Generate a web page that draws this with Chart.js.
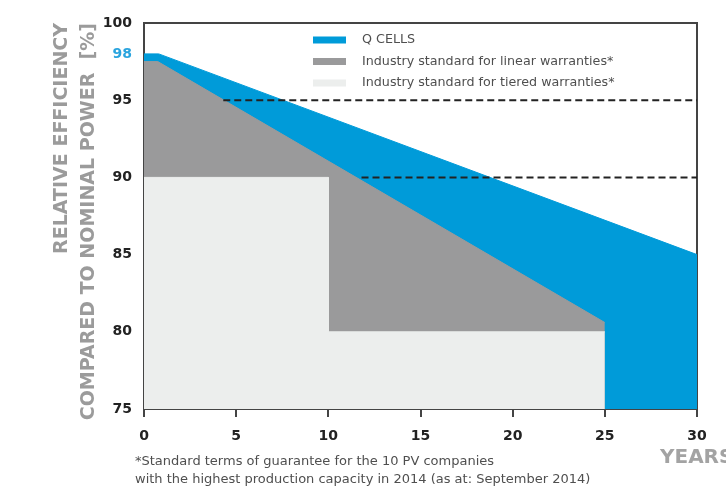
<html>
<head>
<script src="https://cdn.jsdelivr.net/npm/chart.js@4.4.1/dist/chart.umd.min.js"></script>
<style>
	body { margin: 0; background: #fff; }
	#wrap { width: 726px; height: 491px; }
</style>
</head>
<body>
<div id="wrap"><canvas id="mychart"></canvas></div>
<script>
	// guaranteed power (years -> % of nominal power)
	let qcellsYears = [0, 0.8, 30];
	let qcellsValues = [98, 98, 85];
	let linearYears = [0, 0.75, 25];
	let linearValues = [97.5, 97.5, 80.6];
	let tieredYears = [0, 10, 10, 25];
	let tieredValues = [90, 90, 80, 80];
	// dashed guide lines
	let dash95Years = [4.3, 30];
	let dash95Values = [95, 95];
	let dash90Years = [11.8, 30];
	let dash90Values = [90, 90];

	let yTicks = [75, 80, 85, 90, 95, 98, 100];
	let xTicks = [0, 5, 10, 15, 20, 25, 30];
	let seriesLabels = ['Q CELLS', 'Industry standard for linear warranties*', 'Industry standard for tiered warranties*'];
	let yTitle = ['RELATIVE EFFICIENCY', 'COMPARED TO NOMINAL POWER  [%]'];
	let xTitle = 'YEARS';
	let footnote = ['*Standard terms of guarantee for the 10 PV companies', 'with the highest production capacity in 2014 (as at: September 2014)'];

	let blue = '#009bd9';
	let grey = '#9a9a9b';
	let light = '#eceeed';

	function pts(xs, ys) {
		return xs.map(function (x, i) { return { x: x, y: ys[i] }; });
	}

	function area(label, xs, ys, color) {
		return { label: label, data: pts(xs, ys), backgroundColor: color, borderColor: color, borderWidth: 1, fill: 'start', pointRadius: 0, tension: 0 };
	}

	function dashed(xs, ys) {
		return { label: '', data: pts(xs, ys), borderColor: '#222', borderWidth: 2, borderDash: [7, 4], fill: false, pointRadius: 0 };
	}

	// legend drawn inside the plot, in the same order as the picture
	const boxLegend = {
		id: 'boxLegend',
		afterDraw(chart) {
			const ctx = chart.ctx, a = chart.chartArea;
			ctx.save();
			ctx.font = '12.7px "DejaVu Sans"';
			ctx.textBaseline = 'middle';
			seriesLabels.forEach(function (label, i) {
				const ds = chart.data.datasets.find(function (d) { return d.label === label; });
				const y = a.top + 17 + i * 21.5;
				ctx.fillStyle = ds.backgroundColor;
				ctx.fillRect(a.left + 169, y - 3.5, 33, 7);
				ctx.fillStyle = '#4f4f4f';
				ctx.fillText(label, a.left + 218, y);
			});
			ctx.restore();
		}
	};

	// "YEARS" and the footnote under the axis
	const notes = {
		id: 'notes',
		afterDraw(chart) {
			const ctx = chart.ctx, a = chart.chartArea;
			ctx.save();
			ctx.textBaseline = 'middle';
			ctx.font = 'bold 20px "DejaVu Sans"';
			ctx.fillStyle = '#a3a3a3';
			ctx.fillText(xTitle, a.right - 37, a.bottom + 49);
			ctx.font = '13px "DejaVu Sans"';
			ctx.fillStyle = '#4f4f4f';
			footnote.forEach(function (line, i) {
				ctx.fillText(line, a.left - 9, a.bottom + 53 + i * 18);
			});
			ctx.restore();
		}
	};

	let chart = new Chart(document.getElementById('mychart'), {
		type: 'line',
		data: {
			datasets: [
				dashed(dash95Years, dash95Values),
				dashed(dash90Years, dash90Values),
				area(seriesLabels[2], tieredYears, tieredValues, light),
				area(seriesLabels[1], linearYears, linearValues, grey),
				area(seriesLabels[0], qcellsYears, qcellsValues, blue)
			]
		},
		options: {
			responsive: true,
			maintainAspectRatio: false,
			animation: false,
			layout: { padding: { left: 0, top: 23, right: 29, bottom: 0 } },
			plugins: { legend: { display: false }, tooltip: { enabled: false } },
			scales: {
				x: {
					type: 'linear', position: 'bottom', min: 0, max: 30,
					afterBuildTicks: function (s) { s.ticks = xTicks.map(function (v) { return { value: v }; }); },
					ticks: { font: { family: 'DejaVu Sans', size: 14, weight: 'bold' }, color: '#222', padding: 11, maxRotation: 0 },
					grid: { display: true, drawOnChartArea: false, drawTicks: true, tickLength: 8, color: '#444', lineWidth: 2 },
					border: { color: '#444', width: 2 },
					afterFit: function (s) { s.height = 82; }
				},
				y: {
					type: 'linear', position: 'left', min: 75, max: 100,
					afterBuildTicks: function (s) { s.ticks = yTicks.map(function (v) { return { value: v }; }); },
					ticks: {
						font: { family: 'DejaVu Sans', size: 14, weight: 'bold' },
						color: function (c) { return c.tick && c.tick.value === 98 ? '#2aa4de' : '#222'; },
						padding: 12
					},
					grid: { display: false, drawTicks: false },
					border: { color: '#444', width: 2 },
					title: {
						display: true, text: yTitle, align: 'end', color: '#9b9b9b',
						font: { family: 'DejaVu Sans', size: 19, weight: 'bold', lineHeight: 1.4 },
						padding: { top: 49, bottom: 0 }
					},
					afterFit: function (s) { s.width = 144; }
				},
				xTop: {
					type: 'linear', position: 'top', min: 0, max: 30,
					ticks: { display: false }, grid: { display: false, drawTicks: false },
					border: { color: '#444', width: 2 },
					afterFit: function (s) { s.height = 0; }
				},
				yRight: {
					type: 'linear', position: 'right', min: 75, max: 100,
					ticks: { display: false }, grid: { display: false, drawTicks: false },
					border: { color: '#444', width: 2 },
					afterFit: function (s) { s.width = 0; }
				}
			}
		},
		plugins: [boxLegend, notes]
	});
</script>
</body>
</html>
